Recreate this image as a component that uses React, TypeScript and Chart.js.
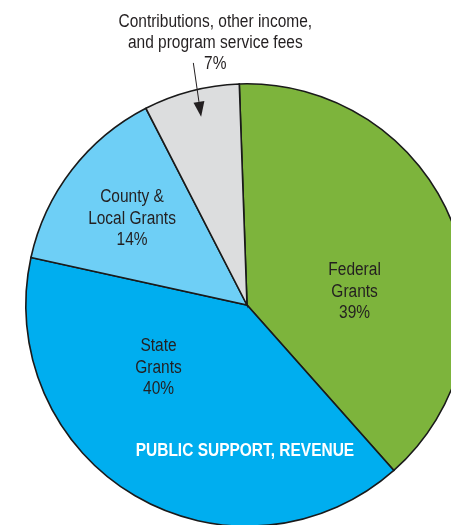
import React, { useEffect, useRef } from "react";
import { Chart, registerables } from "chart.js";

Chart.register(...registerables);

const categories = ["Federal Grants", "State Grants", "County & Local Grants", "Contributions, other income, and program service fees"];
const shares = [39, 40, 14, 7];
const colors = ["#7db43c", "#00aeef", "#6ecff6", "#dcddde"];
const labelLines = [
  ["Federal", "Grants", "39%"],
  ["State", "Grants", "40%"],
  ["County &", "Local Grants", "14%"],
  ["Contributions, other income,", "and program service fees", "7%"],
];
// label anchors in polar terms relative to pie: [angle from top (deg, clockwise), radius fraction]
const labelPolar = [
  [83, 0.49],
  [234.7, 0.49],
  [306.9, 0.65],
  [353.1, 1.193],
];
const title = "PUBLIC SUPPORT, REVENUE";
const titlePolar = [180.8, 0.66];
const arrowFromPolar = [347.5, 1.121];
const arrowToPolar = [346.3, 0.876];

const FONT = "'Liberation Sans', Arial, sans-serif";
const NARROW = 0.86;

const labelPlugin = {
  id: "pieLabels",
  afterDatasetsDraw(chart: any) {
    const ctx = chart.ctx;
    const meta = chart.getDatasetMeta(0);
    const arc = meta.data[0] as any;
    const cx = arc.x;
    const cy = arc.y;
    const R = arc.outerRadius;
    const pt = (a: number, f: number) => {
      const rad = (a * Math.PI) / 180;
      return [cx + Math.sin(rad) * R * f, cy - Math.cos(rad) * R * f];
    };
    const narrowText = (t: string, x: number, y: number) => {
      ctx.save();
      ctx.translate(x, y);
      ctx.scale(NARROW, 1);
      ctx.fillText(t, 0, 0);
      ctx.restore();
    };
    ctx.save();
    ctx.textAlign = "center";
    ctx.textBaseline = "middle";
    ctx.font = `18px ${FONT}`;
    ctx.fillStyle = "#231f20";
    const lh = 21.3;
    labelLines.forEach((lines, i) => {
      const [x, y] = pt(labelPolar[i][0], labelPolar[i][1]);
      lines.forEach((l, j) => {
        narrowText(l, x, y + (j - (lines.length - 1) / 2) * lh);
      });
    });
    // title
    ctx.font = `bold 18px ${FONT}`;
    ctx.fillStyle = "#ffffff";
    const [tx, ty] = pt(titlePolar[0], titlePolar[1]);
    narrowText(title, tx, ty);
    // arrow
    const [ax, ay] = pt(arrowFromPolar[0], arrowFromPolar[1]);
    const [bx, by] = pt(arrowToPolar[0], arrowToPolar[1]);
    ctx.strokeStyle = "#231f20";
    ctx.fillStyle = "#231f20";
    ctx.lineWidth = 1;
    const ang = Math.atan2(by - ay, bx - ax);
    const hl = 15;
    const hw = 5.5;
    const baseX = bx - Math.cos(ang) * hl;
    const baseY = by - Math.sin(ang) * hl;
    ctx.beginPath();
    ctx.moveTo(ax, ay);
    ctx.lineTo(baseX, baseY);
    ctx.stroke();
    ctx.beginPath();
    ctx.moveTo(bx, by);
    ctx.lineTo(baseX - Math.sin(ang) * hw, baseY + Math.cos(ang) * hw);
    ctx.lineTo(baseX + Math.sin(ang) * hw, baseY - Math.cos(ang) * hw);
    ctx.closePath();
    ctx.fill();
    ctx.restore();
  },
};

export default function App() {
  const ref = useRef<HTMLCanvasElement | null>(null);
  useEffect(() => {
    if (!ref.current) return;
    const chart = new Chart(ref.current, {
      type: "pie",
      data: {
        labels: categories,
        datasets: [
          {
            data: shares,
            backgroundColor: colors,
            borderColor: "#1a1a1a",
            borderWidth: 1.6,
            borderJoinStyle: "miter",
          } as any,
        ],
      },
      options: {
        animation: false,
        responsive: false,
        rotation: -2,
        layout: { padding: 25 },
        plugins: {
          legend: { display: false },
          tooltip: { enabled: false },
        },
      },
      plugins: [labelPlugin],
    });
    return () => chart.destroy();
  }, []);
  return (
    <div style={{ position: "fixed", left: 0, top: 0, right: 0, bottom: 0, overflow: "hidden", background: "#fff" }}>
      <canvas ref={ref} width={494} height={610} style={{ position: "absolute", left: 0, top: 0, width: 494, height: 610 }} />
    </div>
  );
}
